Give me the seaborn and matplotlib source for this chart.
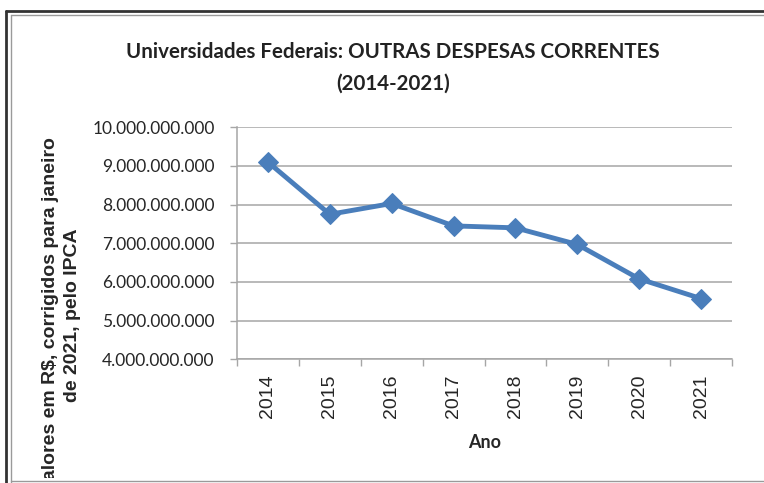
import numpy as np
import pandas as pd
import seaborn as sns
import matplotlib.pyplot as plt
from matplotlib.lines import Line2D
from matplotlib.ticker import FuncFormatter, FixedLocator, NullFormatter
from matplotlib.transforms import Bbox

# dados
anos = ['2014', '2015', '2016', '2017', '2018', '2019', '2020', '2021']
valores = [9.10e9, 7.75e9, 8.03e9, 7.45e9, 7.40e9, 6.97e9, 6.08e9, 5.57e9]
yticks = [4e9, 5e9, 6e9, 7e9, 8e9, 9e9, 10e9]

df = pd.DataFrame({'pos': range(len(anos)), 'valor': valores})

sns.set_style('white')
plt.rcParams['font.family'] = ['Lato', 'DejaVu Sans']

W, H = 764, 483
fig = plt.figure(figsize=(W / 100, H / 100), dpi=100)
ax = fig.add_axes([237 / W, 1 - 359.3 / H, (732 - 237) / W, (359.3 - 127.3) / H])

azul = '#4a7ebb'
sns.lineplot(data=df, x='pos', y='valor', ax=ax, color=azul, lw=3.5,
             marker='D', markersize=10, markeredgecolor=azul, zorder=3)

ax.set_xlim(-0.5, len(anos) - 0.5)
ax.set_ylim(yticks[0], yticks[-1])
ax.yaxis.set_major_locator(FixedLocator(yticks))
ax.yaxis.set_major_formatter(FuncFormatter(lambda v, p: f'{v:,.0f}'.replace(',', '.')))
ax.grid(axis='y', color='#a6a6a6', lw=1.1)
ax.grid(axis='x', visible=False)
ax.set_axisbelow(True)

# eixo de categorias: marcas nas divisas, rótulos no centro
ax.xaxis.set_major_locator(FixedLocator(np.arange(-0.5, len(anos), 1)))
ax.xaxis.set_major_formatter(NullFormatter())
ax.xaxis.set_minor_locator(FixedLocator(range(len(anos))))
ax.set_xticklabels(anos, minor=True, rotation=90, fontsize=14,
                   fontfamily=['Liberation Sans', 'DejaVu Sans'], va='top')
ax.tick_params(axis='x', which='minor', length=0, pad=11)
ax.tick_params(axis='x', which='major', length=5, width=1, color='#a6a6a6', direction='out', bottom=True)
ax.tick_params(axis='y', length=5, width=1, color='#a6a6a6', direction='out', left=True,
               pad=11, labelsize=12.5)
ax.set_xlabel('')
ax.set_ylabel('')

for s in ['top', 'right']:
    ax.spines[s].set_visible(False)
for s in ['left', 'bottom']:
    ax.spines[s].set_color('#a6a6a6')
    ax.spines[s].set_linewidth(1.1)

# títulos
fig.text(393 / W, 1 - 52 / H, 'Universidades Federais: OUTRAS DESPESAS CORRENTES',
         ha='center', va='center', fontsize=14.8, fontweight='bold', color='#222222')
fig.text(393 / W, 1 - 84 / H, '(2014-2021)',
         ha='center', va='center', fontsize=14.8, fontweight='bold', color='#222222')
fig.text(485 / W, 1 - 443 / H, 'Ano', ha='center', va='center', fontsize=13, fontweight='bold')

# rótulo do eixo y (cortado pela moldura, como no original)
ylab = fig.text(61.5 / W, 1 - 315 / H,
                'Valores em R$, corrigidos para janeiro\nde 2021, pelo IPCA',
                rotation=90, ha='center', va='center', multialignment='center',
                fontsize=14, fontweight='bold', linespacing=1.35,
                fontfamily=['Liberation Sans', 'DejaVu Sans'])
ylab.set_clip_box(Bbox([[0, 5], [W, H]]))
ylab.set_clip_on(True)

# moldura
fig.add_artist(Line2D([6 / W, 1], [1 - 11 / H, 1 - 11 / H], transform=fig.transFigure, color='#333333', lw=2))
fig.add_artist(Line2D([6 / W, 6 / W], [1 - 11 / H, 0], transform=fig.transFigure, color='#333333', lw=2))
fig.add_artist(Line2D([11 / W, 1], [1 - 15 / H, 1 - 15 / H], transform=fig.transFigure, color='#9a9a9a', lw=1))
fig.add_artist(Line2D([11 / W, 11 / W], [1 - 15 / H, 0], transform=fig.transFigure, color='#9a9a9a', lw=1))
fig.add_artist(Line2D([11 / W, 1], [1 - 480.5 / H, 1 - 480.5 / H], transform=fig.transFigure, color='#9a9a9a', lw=1))

fig.savefig('out.png', dpi=100)
